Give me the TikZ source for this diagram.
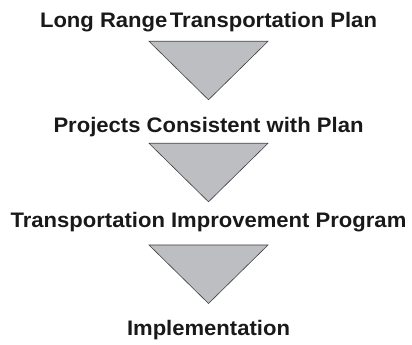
\documentclass[tikz,border=0pt]{standalone}
\usepackage{fontspec}
\setmainfont{Liberation Sans}[FakeStretch=1.05]
\begin{document}
\begin{tikzpicture}[x=1pt,y=1pt,
  lbl/.style={anchor=base, inner sep=0pt, font=\fontsize{21}{25}\selectfont\bfseries, text=black!90},
  tri/.style={fill=trigray, draw=black!75, line width=0.6pt, line join=miter}]
\useasboundingbox (0,0) rectangle (412,345);
\definecolor{trigray}{HTML}{BDBEC1}
\node[lbl] (a) at (208.5,317) {Long Range\hspace{2.5pt}Transportation Plan};
\node[lbl] (b) at (208.5,212) {Projects Consistent with Plan};
\node[lbl] (c) at (208.5,117) {Transportation Improvement Program};
\node[lbl] (d) at (208.5,9) {Implementation};
\foreach \t/\n in {303.7/1,201.7/2,100/3}{
  \coordinate (tl\n) at (149,\t);
  \coordinate (tr\n) at (268,\t);
  \coordinate (ta\n) at (208.5,\t-58.5);
  \draw[tri] (tl\n) -- (tr\n) -- (ta\n) -- cycle;
}
\end{tikzpicture}
\end{document}
